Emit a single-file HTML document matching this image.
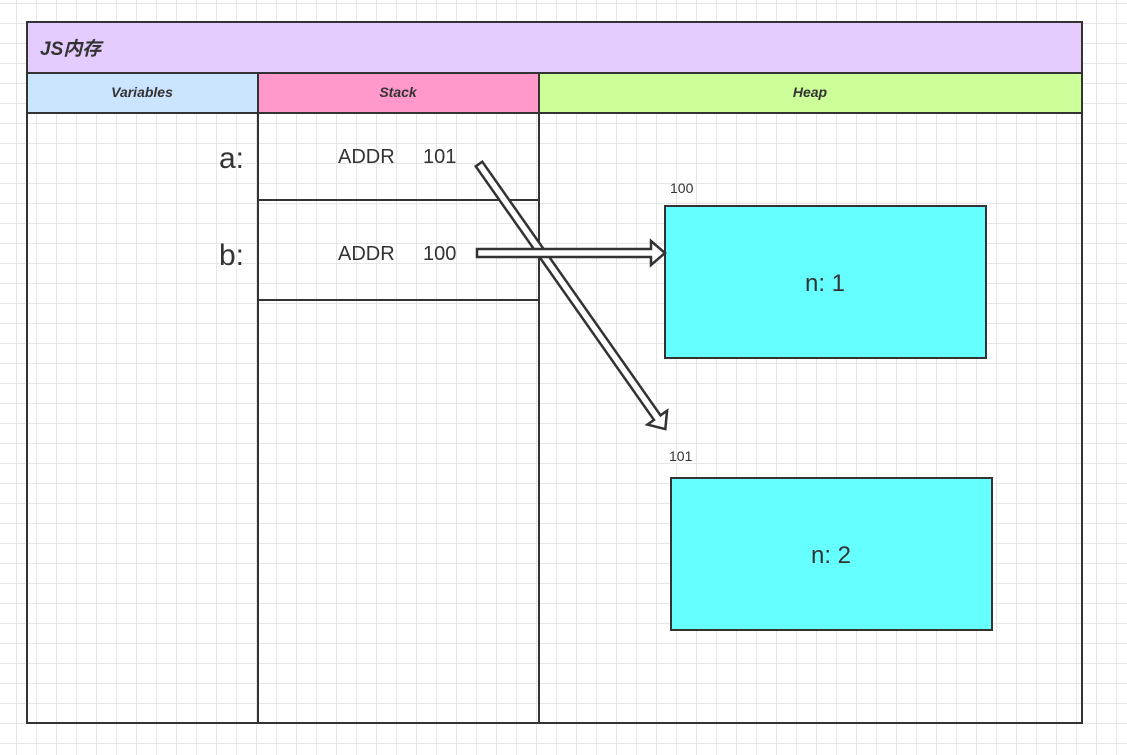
<!DOCTYPE html>
<html><head><meta charset="utf-8"><style>
html,body{margin:0;padding:0;}
body{width:1127px;height:755px;overflow:hidden;background:#fff;
background-image:linear-gradient(#e6e6e6 1px,transparent 1px),linear-gradient(90deg,#e6e6e6 1px,transparent 1px);
background-size:20px 20px;background-position:16px 3px;font-family:"Liberation Sans","Noto Sans CJK SC",sans-serif;}
</style></head><body>
<svg width="1127" height="755" style="position:absolute;left:0;top:0" font-family="Liberation Sans, Noto Sans CJK SC, sans-serif">
<rect x="27" y="22" width="1055" height="51" fill="#e5ccff" stroke="#333" stroke-width="2"/>
<rect x="27" y="73" width="231" height="40" fill="#cce5ff" stroke="#333" stroke-width="2"/>
<rect x="258" y="73" width="281" height="40" fill="#ff99cc" stroke="#333" stroke-width="2"/>
<rect x="539" y="73" width="543" height="40" fill="#ccff99" stroke="#333" stroke-width="2"/>
<rect x="27" y="113" width="231" height="610" fill="none" stroke="#333" stroke-width="2"/>
<rect x="258" y="113" width="281" height="610" fill="none" stroke="#333" stroke-width="2"/>
<rect x="539" y="113" width="543" height="610" fill="none" stroke="#333" stroke-width="2"/>
<line x1="258" y1="200" x2="539" y2="200" stroke="#333" stroke-width="2"/>
<line x1="258" y1="300" x2="539" y2="300" stroke="#333" stroke-width="2"/>
<text x="40" y="55" font-size="19" font-weight="bold" font-style="italic" fill="#333">JS内存</text>
<text x="142" y="97" font-size="14" font-weight="bold" font-style="italic" fill="#333" text-anchor="middle">Variables</text>
<text x="398" y="97" font-size="14" font-weight="bold" font-style="italic" fill="#333" text-anchor="middle">Stack</text>
<text x="810" y="97" font-size="14" font-weight="bold" font-style="italic" fill="#333" text-anchor="middle">Heap</text>
<text x="244" y="168" font-size="30" fill="#333" text-anchor="end">a:</text>
<text x="244" y="265" font-size="30" fill="#333" text-anchor="end">b:</text>
<text x="338" y="163" font-size="20" fill="#333">ADDR</text>
<text x="423" y="163" font-size="20" fill="#333">101</text>
<text x="338" y="260" font-size="20" fill="#333">ADDR</text>
<text x="423" y="260" font-size="20" fill="#333">100</text>
<text x="670" y="193" font-size="14" fill="#333">100</text>
<text x="669" y="461" font-size="14" fill="#333">101</text>
<rect x="665" y="206" width="321" height="152" fill="#66ffff" stroke="#333" stroke-width="2"/>
<rect x="671" y="478" width="321" height="152" fill="#66ffff" stroke="#333" stroke-width="2"/>
<text x="825" y="291" font-size="24" fill="#333" text-anchor="middle">n: 1</text>
<text x="831" y="563" font-size="24" fill="#333" text-anchor="middle">n: 2</text>
<g transform="translate(479,164) rotate(54.9)">
<polygon points="0,-4 310,-4 310,-12 324,0 310,12 310,4 0,4" fill="#fff" stroke="#333" stroke-width="2.5" stroke-linejoin="miter"/>
</g>
<g transform="translate(477,253)">
<polygon points="0,-4 174,-4 174,-12 188,0 174,12 174,4 0,4" fill="#fff" stroke="#333" stroke-width="2.5"/>
</g>
</svg>
</body></html>
